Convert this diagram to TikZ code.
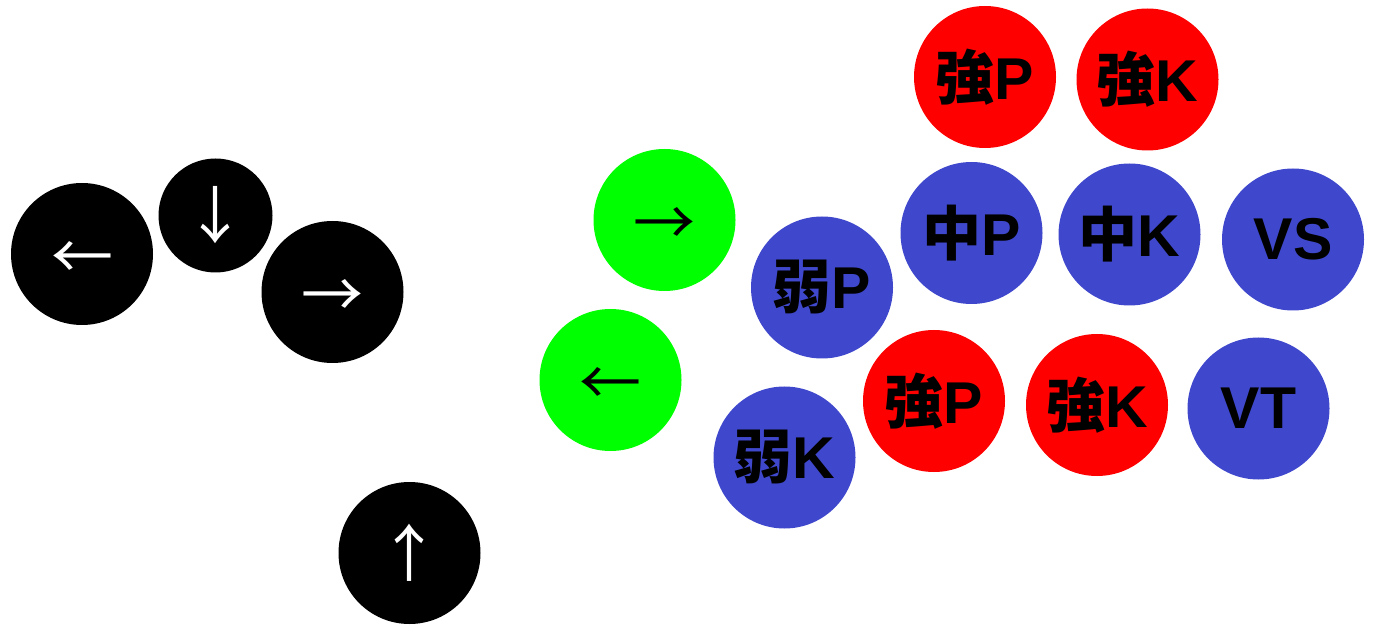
\documentclass[tikz,border=0pt]{standalone}
\usepackage{fontspec}
\newfontfamily\cjk{Noto Sans CJK JP}
\newfontfamily\lat{Liberation Sans}
\definecolor{btnblue}{RGB}{63,72,204}
\definecolor{btnred}{RGB}{255,0,0}
\definecolor{btngreen}{RGB}{0,255,0}
\newcommand\kj[1]{{\cjk\bfseries #1}}
\newcommand\harr[1]{\raisebox{-6pt}[\height][\depth]{#1}}
\tikzset{
  btn/.style={circle,inner sep=0pt,minimum size=142pt,draw=none},
  arrowfont/.style={font=\cjk\fontsize{62}{62}\selectfont},
  labelfont/.style={font=\lat\bfseries\fontsize{59}{59}\selectfont},
  blk/.style={btn,fill=black,text=white,arrowfont},
  grn/.style={btn,fill=btngreen,text=black,arrowfont},
  blu/.style={btn,fill=btnblue,text=black,labelfont},
  rd/.style={btn,fill=btnred,text=black,labelfont}
}
\begin{document}
\begin{tikzpicture}[x=1pt,y=-1pt]
  \useasboundingbox (0,0) rectangle (1377,644);
  % directional buttons
  \node[blk] (left)  at (82,254)  {\harr{←}};
  \node[blk,minimum size=114pt] (down) at (215.5,215.5) {↓};
  \node[blk] (right) at (332.5,292) {\harr{→}};
  \node[blk] (up)    at (409.5,553) {↑};
  % green buttons
  \node[grn] (gright) at (664.5,220) {\harr{→}};
  \node[grn] (gleft)  at (610.5,380) {\harr{←}};
  % attack buttons
  \node[blu] (lp)  at (822,287.5)   {\kj{弱}P};
  \node[blu] (lk)  at (784.5,457.5) {\kj{弱}K};
  \node[rd]  (hp1) at (985,77)      {\kj{強}P};
  \node[rd]  (hk1) at (1147.5,79.5) {\kj{強}K};
  \node[blu] (mp)  at (971.5,233)   {\kj{中}P};
  \node[blu] (mk)  at (1129.5,234.5){\kj{中}K};
  \node[blu] (vs)  at (1293,239.5)  {VS};
  \node[rd]  (hp2) at (934,401)     {\kj{強}P};
  \node[rd]  (hk2) at (1097,405)    {\kj{強}K};
  \node[blu] (vt)  at (1258.5,408.5){VT};
\end{tikzpicture}
\end{document}
